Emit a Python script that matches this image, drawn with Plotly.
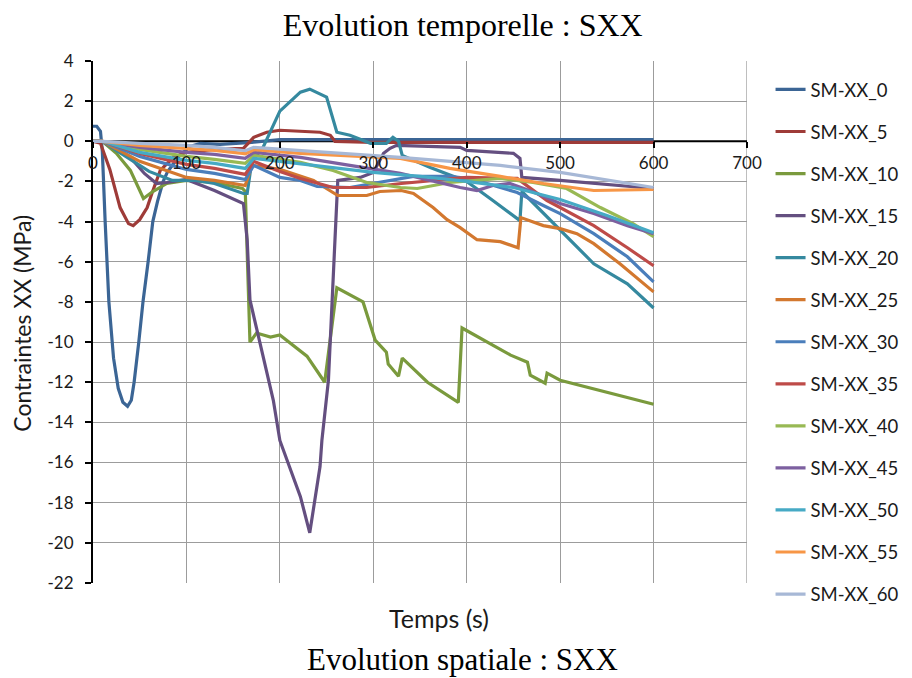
import plotly.graph_objects as go

# temps (s) / contrainte SXX (MPa) relevés pour chaque capteur
t_sm0 = [0, 4, 8, 10, 13, 17, 22, 27, 32, 37, 41, 44, 49, 53.5, 59, 64, 69, 75, 80, 86, 93, 104, 115, 136, 170, 200, 300, 400, 500, 600]
v_sm0 = [0.75, 0.75, 0.5, -0.5, -4.0, -8.0, -10.8, -12.3, -13.0, -13.2, -12.9, -12.0, -10.0, -8.0, -6.0, -4.0, -3.0, -2.0, -1.5, -1.1, -0.7, -0.25, -0.1, -0.15, -0.05, 0.08, 0.08, 0.08, 0.08, 0.08]

t_sm5 = [0, 8, 18, 29, 38, 43, 50, 58, 63, 72, 86, 100, 130, 161, 172, 186, 200, 243, 254, 259, 300, 600]
v_sm5 = [0, -0.1, -1.4, -3.3, -4.1, -4.2, -3.9, -3.3, -2.6, -1.45, -0.8, -0.55, -0.4, -0.35, 0.2, 0.45, 0.55, 0.45, 0.3, 0.0, -0.05, -0.05]

t_sm10 = [0, 10, 25, 40, 54, 64, 79, 100, 130, 160, 163, 168, 175, 190, 200, 229, 248, 261, 289, 302, 314, 316, 327, 331, 358, 391, 395, 418, 447, 465, 468, 484, 486, 500, 550, 600]
v_sm10 = [0, 0, -0.6, -1.45, -2.85, -2.5, -2.1, -1.95, -2.05, -2.35, -2.5, -10.0, -9.55, -9.75, -9.65, -10.7, -12.0, -7.3, -8.0, -9.9, -10.5, -11.1, -11.7, -10.8, -12.0, -13.0, -9.3, -9.9, -10.65, -11.0, -11.65, -12.05, -11.55, -11.9, -12.5, -13.1]

t_sm15 = [0, 10, 40, 55, 68, 79, 100, 130, 161, 165, 168, 193, 200, 222, 232, 243, 245, 252, 259, 262, 286, 300, 311, 318, 325, 393, 400, 450, 457, 459, 500, 550, 600]
v_sm15 = [0, 0, -0.8, -1.6, -2.1, -2.05, -1.9, -2.45, -3.1, -4.9, -7.9, -12.9, -14.9, -17.7, -19.5, -16.2, -14.9, -11.9, -4.9, -1.95, -1.8, -1.55, -0.6, -0.35, -0.2, -0.3, -0.45, -0.6, -0.85, -1.8, -1.95, -2.15, -2.35]

t_sm20 = [0, 10, 40, 60, 85, 110, 130, 161, 165, 170, 182, 200, 222, 232, 250, 261, 275, 297, 314, 321, 327, 331, 361, 400, 428, 457, 459, 500, 536, 572, 600]
v_sm20 = [0, 0, -0.9, -1.5, -1.95, -1.95, -2.1, -2.6, -2.6, -1.0, -0.3, 1.5, 2.45, 2.6, 2.2, 0.45, 0.3, -0.1, -0.1, 0.2, 0.0, -0.7, -1.3, -2.0, -2.95, -3.95, -2.5, -4.4, -6.1, -7.1, -8.3]

t_sm25 = [0, 10, 50, 100, 130, 160, 163, 170, 200, 236, 254, 262, 293, 307, 330, 343, 364, 379, 393, 411, 436, 455, 458, 482, 500, 518, 536, 564, 600]
v_sm25 = [0, 0, -1.0, -1.8, -1.95, -2.2, -2.2, -1.2, -1.4, -1.95, -2.45, -2.7, -2.7, -2.5, -2.45, -2.6, -3.3, -3.9, -4.3, -4.9, -5.0, -5.3, -3.8, -4.2, -4.35, -4.6, -5.1, -6.1, -7.5]

t_sm30 = [0, 10, 50, 100, 130, 160, 163, 172, 200, 222, 240, 275, 307, 343, 382, 400, 418, 454, 482, 500, 536, 572, 600]
v_sm30 = [0, 0, -0.75, -1.4, -1.6, -1.85, -1.9, -1.2, -1.8, -1.95, -2.25, -2.3, -2.05, -1.75, -1.75, -1.85, -2.05, -2.55, -3.2, -3.6, -4.6, -5.75, -7.0]

t_sm35 = [0, 10, 50, 100, 130, 160, 163, 172, 200, 222, 257, 293, 330, 400, 454, 486, 500, 536, 572, 600]
v_sm35 = [0, 0, -0.6, -1.15, -1.35, -1.6, -1.65, -1.0, -1.5, -1.85, -2.3, -2.3, -2.1, -1.8, -1.85, -2.95, -3.3, -4.2, -5.3, -6.2]

t_sm40 = [0, 10, 50, 100, 130, 160, 163, 172, 200, 222, 257, 293, 329, 347, 382, 436, 471, 507, 543, 578, 600]
v_sm40 = [0, 0, -0.4, -0.75, -0.9, -1.05, -1.1, -0.7, -0.9, -1.05, -1.45, -2.05, -2.3, -2.35, -2.05, -1.85, -2.05, -2.35, -3.3, -4.1, -4.75]

t_sm45 = [0, 10, 50, 100, 130, 160, 163, 172, 222, 275, 329, 393, 411, 428, 446, 470, 500, 536, 572, 600]
v_sm45 = [0, 0, -0.3, -0.55, -0.65, -0.8, -0.85, -0.55, -0.8, -1.2, -1.6, -2.3, -2.45, -2.2, -2.1, -2.5, -3.1, -3.6, -4.2, -4.6]

t_sm50 = [0, 10, 50, 100, 130, 160, 163, 172, 200, 250, 300, 350, 400, 450, 500, 550, 600]
v_sm50 = [0, 0, -0.55, -0.95, -1.1, -1.3, -1.35, -0.85, -1.0, -1.3, -1.55, -1.75, -2.0, -2.3, -2.9, -3.7, -4.55]

t_sm55 = [0, 10, 50, 100, 130, 160, 163, 172, 222, 329, 382, 436, 482, 536, 600]
v_sm55 = [0, 0, -0.2, -0.35, -0.45, -0.6, -0.62, -0.42, -0.6, -0.85, -1.35, -1.75, -2.1, -2.45, -2.4]

t_sm60 = [0, 10, 50, 100, 130, 160, 163, 172, 222, 329, 436, 500, 600]
v_sm60 = [0, 0, -0.1, -0.2, -0.3, -0.45, -0.47, -0.3, -0.45, -0.8, -1.2, -1.55, -2.3]

names = ["SM-XX_0", "SM-XX_5", "SM-XX_10", "SM-XX_15", "SM-XX_20", "SM-XX_25", "SM-XX_30",
         "SM-XX_35", "SM-XX_40", "SM-XX_45", "SM-XX_50", "SM-XX_55", "SM-XX_60"]
colors = ["#3B6595", "#9E3B38", "#7A9A3D", "#644F80", "#35899F", "#D3782F", "#4A7EBB",
          "#BE4B48", "#98B954", "#7D60A0", "#46AAC5", "#F79646", "#A7B8D6"]
series = [(t_sm0, v_sm0), (t_sm5, v_sm5), (t_sm10, v_sm10), (t_sm15, v_sm15), (t_sm20, v_sm20),
          (t_sm25, v_sm25), (t_sm30, v_sm30), (t_sm35, v_sm35), (t_sm40, v_sm40), (t_sm45, v_sm45),
          (t_sm50, v_sm50), (t_sm55, v_sm55), (t_sm60, v_sm60)]

x_ticks = [0, 100, 200, 300, 400, 500, 600, 700]
y_ticks = list(range(-22, 5, 2))
y_ticktext = [str(v) for v in y_ticks]  # trait d'union simple comme Excel

FONT = "Lato, 'Open Sans', sans-serif"
SERIF = "'Liberation Serif', 'Times New Roman', serif"
GRID = "#9C9C9C"

fig = go.Figure()
# même ordre qu'Excel : la dernière série est dessinée au-dessus
for (t, v), name, color in zip(series, names, colors):
    fig.add_trace(go.Scatter(x=t, y=v, mode="lines", name=name, legendgroup=name,
                             line=dict(color=color, width=3.2)))

# la page html a une marge de 8 px : figure un peu plus petite que la fenêtre
fig.update_layout(
    width=904, height=670,
    margin=dict(l=85, r=165, t=53, b=95, autoexpand=False),
    paper_bgcolor="white", plot_bgcolor="white",
    font=dict(family=FONT, size=17, color="#1a1a1a"),
    title=dict(text="Evolution temporelle : SXX", x=0.503, xanchor="center",
               y=1 - 17 / 670, yanchor="middle",
               font=dict(family=SERIF, size=32, color="black")),
    legend=dict(x=1.036, xanchor="left", y=0.981, yanchor="top", traceorder="grouped",
                tracegroupgap=15, font=dict(size=18.5), itemwidth=30, maxheight=660,
                bgcolor="rgba(0,0,0,0)"),
    showlegend=True,
)

fig.update_xaxes(range=[0, 700], tickvals=x_ticks, showgrid=True, gridcolor=GRID, gridwidth=1.3,
                 zeroline=False, showline=False, anchor="free", position=22 / 26,
                 ticks="outside", ticklen=6, tickwidth=2, tickcolor="black",
                 tickfont=dict(size=17, color="#1a1a1a"))
fig.update_yaxes(range=[-22, 4], tickvals=y_ticks, ticktext=y_ticktext, showgrid=True,
                 gridcolor=GRID, gridwidth=1.3,
                 zeroline=False, showline=True, linecolor="black", linewidth=2,
                 ticks="outside", ticklen=6, tickwidth=2, tickcolor="black",
                 ticklabelstandoff=8, tickfont=dict(size=17, color="#1a1a1a"))

# bord droit de la grille
fig.add_shape(type="line", xref="x", yref="y", x0=700, x1=700, y0=-22, y1=4,
              line=dict(color=GRID, width=1.3), layer="between")
# axe horizontal à y = 0, sous les courbes
fig.add_shape(type="line", xref="x", yref="y", x0=0, x1=700, y0=0, y1=0,
              line=dict(color="black", width=2), layer="between")

fig.add_annotation(text="Temps (s)", xref="paper", yref="paper", x=0.529, y=-0.067,
                   showarrow=False, font=dict(size=25), xanchor="center", yanchor="middle")
fig.add_annotation(text="Contraintes XX (MPa)", xref="paper", yref="paper", x=-0.109, y=0.498,
                   textangle=-90, showarrow=False, font=dict(size=23), xanchor="center", yanchor="middle")
fig.add_annotation(text="Evolution spatiale : SXX", xref="paper", yref="paper", x=0.565, y=-0.146,
                   showarrow=False, xanchor="center", yanchor="middle",
                   font=dict(family=SERIF, size=31, color="black"))

fig.write_html("out.html")
